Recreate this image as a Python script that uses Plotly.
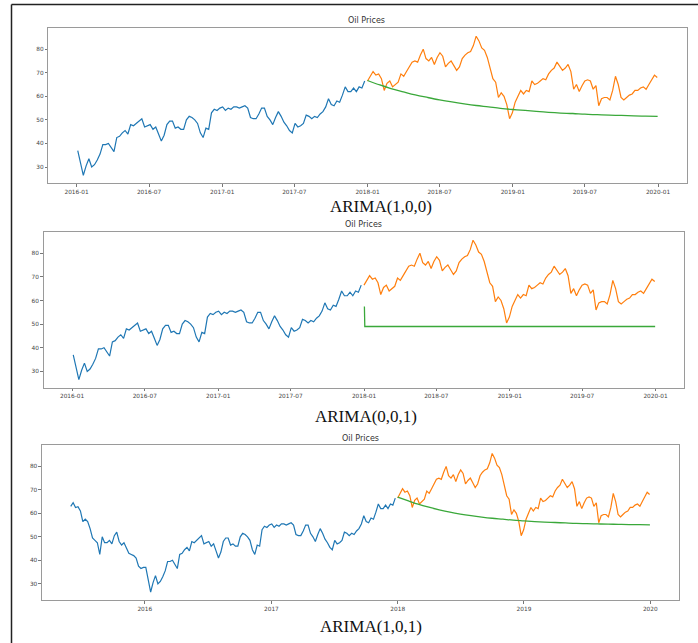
import pandas as pd
import plotly.graph_objects as go

# Weekly (Monday) Brent oil prices, USD/bbl
price_2015 = [63.0, 64.5, 62.5, 62.8, 61.0,
              56.5, 57.5, 56.5, 53.5,
              49.5, 48.5, 47.5, 42.5, 50.0,
              47.5, 47.5, 48.5, 47.0,
              50.5, 52.0, 48.0, 46.5,
              47.5, 45.5, 43.0, 42.5, 42.0,
              41.0, 37.5, 36.5, 37.0]
price_2016 = [37.0, 31.5, 26.5, 30.5,
              33.5, 30.0, 31.0, 33.0, 35.5,
              39.5, 39.5, 40.0, 38.0,
              36.5, 42.5, 43.0, 44.5,
              45.5, 44.0, 48.0, 47.5, 48.5,
              49.5, 50.5, 47.0, 47.5,
              48.0, 46.0, 47.0, 44.0,
              41.0, 43.5, 48.0, 49.5, 49.5,
              46.5, 47.0, 46.0, 46.0,
              50.0, 51.5, 51.0, 50.0, 48.5,
              44.5, 42.5, 46.5, 46.0,
              53.0, 54.5, 54.0, 55.0]
price_2017 = [55.5, 54.0, 55.0, 54.5, 55.5,
              55.5, 55.0, 55.5, 56.0,
              55.0, 51.0, 50.5, 50.5,
              52.5, 55.0, 55.0, 51.5,
              50.0, 48.0, 51.0, 53.5, 51.5,
              49.0, 47.5, 45.5, 44.5,
              48.5, 47.0, 47.5, 48.5, 52.0,
              51.5, 50.5, 51.5, 51.0,
              52.5, 53.5, 55.5, 59.0,
              56.5, 56.0, 58.0, 57.5, 60.5,
              64.0, 62.0, 62.0, 63.5,
              62.0, 64.0, 63.5, 66.5]
price_2018 = [66.5, 68.5, 70.5, 69.0, 69.5,
              67.5, 62.5, 65.5, 66.5,
              64.0, 65.0, 66.0, 69.5,
              68.5, 70.5, 72.5, 74.5, 75.0,
              74.5, 77.5, 80.0, 76.0,
              75.0, 76.5, 73.5, 76.5,
              78.5, 77.0, 72.5, 74.0, 75.0,
              73.0, 71.0, 72.5, 76.0,
              77.5, 78.5, 79.0, 81.5,
              85.5, 83.5, 80.5, 79.5, 76.5,
              72.0, 67.5, 66.0, 59.5,
              61.5, 60.0, 56.5, 50.5, 53.0]
price_2019 = [57.5, 60.0, 62.5, 61.0,
              62.5, 62.0, 66.5, 65.0,
              65.5, 66.5, 67.5, 67.0,
              69.5, 71.0, 72.0, 74.5, 72.5,
              71.0, 72.0, 73.5, 70.5,
              63.0, 65.0, 62.0, 64.5,
              66.5, 67.0, 66.5, 63.0, 64.5,
              56.0, 59.0, 59.5, 59.5,
              58.5, 62.5, 68.5, 65.0, 59.5,
              58.5, 59.5, 60.5, 61.0,
              62.5, 62.5, 63.5, 64.0,
              63.0, 65.0, 67.0, 69.0, 68.0]

# Model forecasts over the test period (monthly points + year end)
ar1_forecast = [66.7, 64.8, 63.3, 61.9, 60.6, 59.5, 58.5, 57.6, 56.8, 56.1, 55.5, 54.9,
                54.4, 54.0, 53.6, 53.2, 52.9, 52.7, 52.4, 52.2, 52.0, 51.9, 51.7, 51.6, 51.5]
arma11_forecast = [66.9, 65.3, 63.9, 62.6, 61.5, 60.5, 59.7, 59.0, 58.4, 57.9, 57.5, 57.1,
                   56.8, 56.5, 56.3, 56.1, 55.9, 55.7, 55.6, 55.5, 55.4, 55.3, 55.2, 55.2, 55.1]
ma1_forecast = [57.5, 49.0, 49.0]
ma1_dates = ["2018-01-02", "2018-01-03", "2019-12-31"]

model_titles = ["ARIMA(1,0,0)", "ARIMA(0,0,1)", "ARIMA(1,0,1)"]

prices = price_2015 + price_2016 + price_2017 + price_2018 + price_2019
series = pd.Series(prices, index=pd.date_range("2015-06-01", periods=len(prices), freq="W-MON"))
split = pd.Timestamp("2018-01-01")
train_long = series[series.index < split]
train = train_long[train_long.index >= pd.Timestamp("2016-01-01")]
test = series[series.index >= split]

fc_dates = list(pd.date_range("2018-01-01", "2019-12-01", freq="MS")) + [pd.Timestamp("2019-12-31")]

BLUE, ORANGE, GREEN = "#1f77b4", "#ff7f0e", "#3aa83a"
W, H = 698, 643


def fx(x):
    return x / W


def fy(y):
    return 1 - y / H


fig = go.Figure()

panels = [
    (train, fc_dates, ar1_forecast, "spline"),
    (train, ma1_dates, ma1_forecast, "linear"),
    (train_long, fc_dates, arma11_forecast, "spline"),
]
for i, (tr, fd, fv, shape) in enumerate(panels):
    xa = "x" if i == 0 else f"x{i + 1}"
    ya = "y" if i == 0 else f"y{i + 1}"
    fig.add_trace(go.Scatter(x=tr.index, y=tr.values, mode="lines",
                             line=dict(color=BLUE, width=1.2), xaxis=xa, yaxis=ya))
    fig.add_trace(go.Scatter(x=test.index, y=test.values, mode="lines",
                             line=dict(color=ORANGE, width=1.2), xaxis=xa, yaxis=ya))
    fig.add_trace(go.Scatter(x=fd, y=fv, mode="lines",
                             line=dict(color=GREEN, width=1.3, shape=shape), xaxis=xa, yaxis=ya))

# axes boxes in pixel coordinates: left, right, top, bottom
boxes = [(48.3, 686.7, 27.7, 183.3), (43.7, 684.3, 231.7, 387.7), (42.0, 679.0, 445.0, 600.0)]
xranges = [["2015-10-22", "2020-03-13"], ["2015-10-22", "2020-03-13"], ["2015-03-10", "2020-03-24"]]

axis_style = dict(showline=True, mirror=True, linecolor="#9a9a9a", linewidth=1.1,
                  ticks="outside", ticklen=2.5, tickwidth=0.8, tickcolor="#777",
                  showgrid=False, zeroline=False,
                  tickfont=dict(family="DejaVu Sans", size=5.8, color="#444"))

layout_axes = {}
for i, (l, r, t, b) in enumerate(boxes):
    sx = "" if i == 0 else str(i + 1)
    xa = dict(axis_style, domain=[fx(l), fx(r)], range=xranges[i], type="date",
              anchor="y" + sx)
    if i < 2:
        xa.update(dtick="M6", tick0="2016-01-01", tickformat="%Y-%m")
    else:
        xa.update(dtick="M12", tick0="2016-01-01", tickformat="%Y")
    ya = dict(axis_style, domain=[fy(b), fy(t)], range=[23.1, 89.1], dtick=10, tick0=0,
              anchor="x" + sx)
    layout_axes["xaxis" + sx] = xa
    layout_axes["yaxis" + sx] = ya

annotations = []
for (cx, cy) in [(366.2, 20.3), (364.0, 224.0), (360.0, 438.0)]:
    annotations.append(dict(text="Oil Prices", x=fx(cx), y=fy(cy), xref="paper", yref="paper",
                            showarrow=False, xanchor="center", yanchor="middle",
                            font=dict(family="DejaVu Sans", size=8, color="#333")))
for title, (cx, cy) in zip(model_titles, [(381.0, 206.0), (366.0, 416.0), (371.0, 626.0)]):
    annotations.append(dict(text=title, x=fx(cx), y=fy(cy), xref="paper", yref="paper",
                            showarrow=False, xanchor="center", yanchor="middle",
                            font=dict(family="Liberation Serif", size=17, color="#111")))

# page frame
shapes = [
    dict(type="line", xref="paper", yref="paper", x0=fx(11.5), x1=1.0, y0=fy(4.5), y1=fy(4.5),
         line=dict(color="#222", width=1.5)),
    dict(type="line", xref="paper", yref="paper", x0=fx(11.5), x1=fx(11.5), y0=fy(4.5), y1=0.0,
         line=dict(color="#222", width=1.5)),
]

fig.update_layout(width=W, height=H, margin=dict(l=0, r=0, t=0, b=0),
                  paper_bgcolor="white", plot_bgcolor="white", showlegend=False,
                  annotations=annotations, shapes=shapes, **layout_axes)

fig.write_html("out.html")
